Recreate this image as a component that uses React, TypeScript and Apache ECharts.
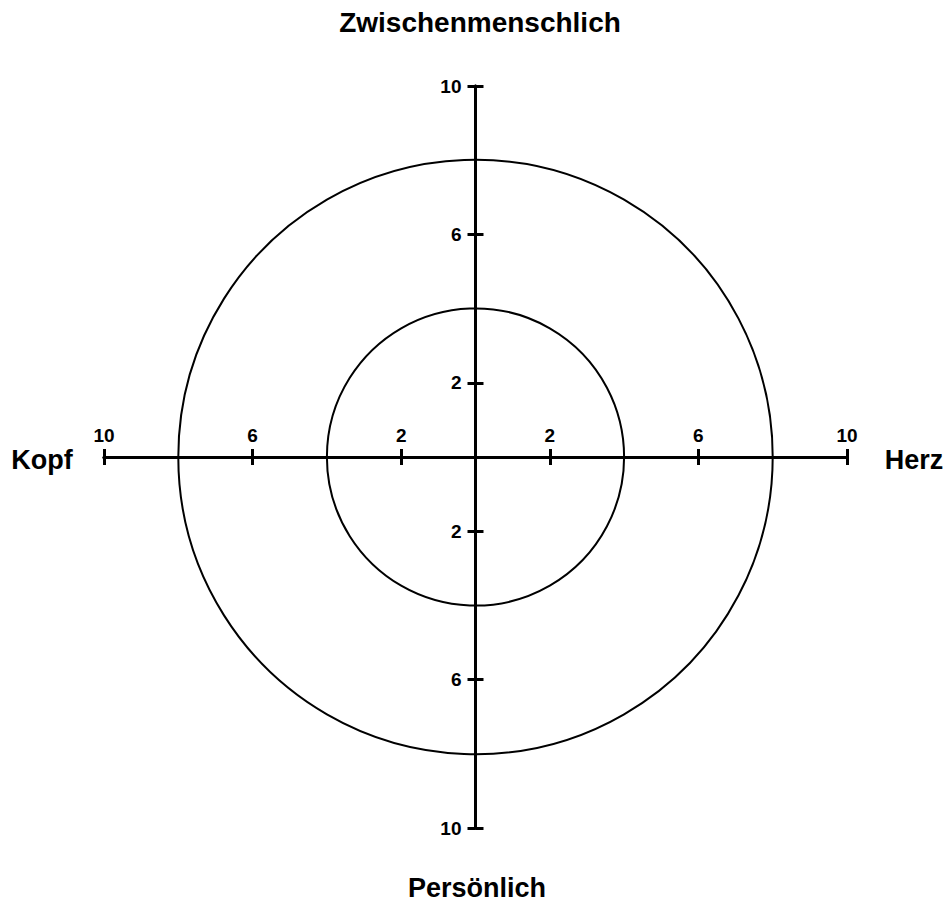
import React, { useEffect, useRef } from "react";
import * as echarts from "echarts";

const tickValues = [-10, -6, -2, 2, 6, 10];
const ringRadii = [4, 8];
const axisMin = -10;
const axisMax = 10;
const topLabel = "Zwischenmenschlich";
const bottomLabel = "Persönlich";
const leftLabel = "Kopf";
const rightLabel = "Herz";

const FONT = "'Liberation Sans', Arial, sans-serif";

export default function App() {
  const ref = useRef<HTMLDivElement>(null);
  useEffect(() => {
    if (!ref.current) return;
    const chart = echarts.init(ref.current, undefined, { renderer: "svg" });
    const W = 946;
    const H = 904;
    const gl = 104, gr = 99, gt = 86, gb = 76;
    const halfH = (H - gt - gb) / 2;
    const halfW = (W - gl - gr) / 2;
    const lineStyle = { color: "#000", width: 3 };
    const fmt = (v: number) => String(Math.abs(v));
    const labelBase = {
      color: "#000",
      fontWeight: "bold" as const,
      fontSize: 19,
      fontFamily: FONT,
    };
    const nameStyle = {
      fill: "#000",
      fontWeight: "bold",
      fontSize: 27,
      fontFamily: FONT,
      textAlign: "center",
      textVerticalAlign: "middle",
    };
    chart.setOption({
      animation: false,
      backgroundColor: "#fff",
      grid: { left: gl, right: gr, top: gt, bottom: gb, containLabel: false },
      xAxis: [
        {
          type: "value",
          min: axisMin,
          max: axisMax,
          position: "top",
          offset: -halfH,
          axisLine: { onZero: false, lineStyle },
          axisTick: { customValues: tickValues, length: 8, lineStyle },
          axisLabel: { ...labelBase, customValues: tickValues, formatter: fmt, margin: 12 },
          splitLine: { show: false },
        },
        {
          type: "value",
          min: axisMin,
          max: axisMax,
          position: "bottom",
          offset: -halfH,
          axisLine: { onZero: false, lineStyle },
          axisTick: { customValues: tickValues, length: 8, lineStyle },
          axisLabel: { show: false },
          splitLine: { show: false },
        },
      ],
      yAxis: [
        {
          type: "value",
          min: axisMin,
          max: axisMax,
          position: "left",
          offset: -halfW,
          axisLine: { onZero: false, lineStyle },
          axisTick: { customValues: tickValues, length: 8, lineStyle },
          axisLabel: { ...labelBase, customValues: tickValues, formatter: fmt, margin: 14 },
          splitLine: { show: false },
        },
        {
          type: "value",
          min: axisMin,
          max: axisMax,
          position: "right",
          offset: -halfW,
          axisLine: { onZero: false, lineStyle },
          axisTick: { customValues: tickValues, length: 8, lineStyle },
          axisLabel: { show: false },
          splitLine: { show: false },
        },
      ],
      series: [
        {
          type: "custom",
          xAxisIndex: 0,
          yAxisIndex: 0,
          data: ringRadii.map((r) => [0, 0, r]),
          encode: { x: 0, y: 1 },
          renderItem: (params: any, api: any) => {
            const r = api.value(2);
            const c = api.coord([api.value(0), api.value(1)]);
            const s = api.size([r, r]);
            return {
              type: "circle",
              shape: { cx: c[0], cy: c[1], r: s[0] },
              style: { fill: "none", stroke: "#000", lineWidth: 2 },
              silent: true,
            };
          },
          z: 1,
        },
      ],
      graphic: [
        { type: "text", x: 480, y: 22, style: { ...nameStyle, fontSize: 28, text: topLabel } },
        { type: "text", x: 477, y: 888, style: { ...nameStyle, text: bottomLabel } },
        { type: "text", x: 42, y: 460, style: { ...nameStyle, text: leftLabel } },
        { type: "text", x: 914, y: 460, style: { ...nameStyle, text: rightLabel } },
      ],
    });
    return () => chart.dispose();
  }, []);
  return (
    <div
      ref={ref}
      style={{ position: "absolute", left: 0, top: 0, width: 946, height: 904 }}
    />
  );
}
